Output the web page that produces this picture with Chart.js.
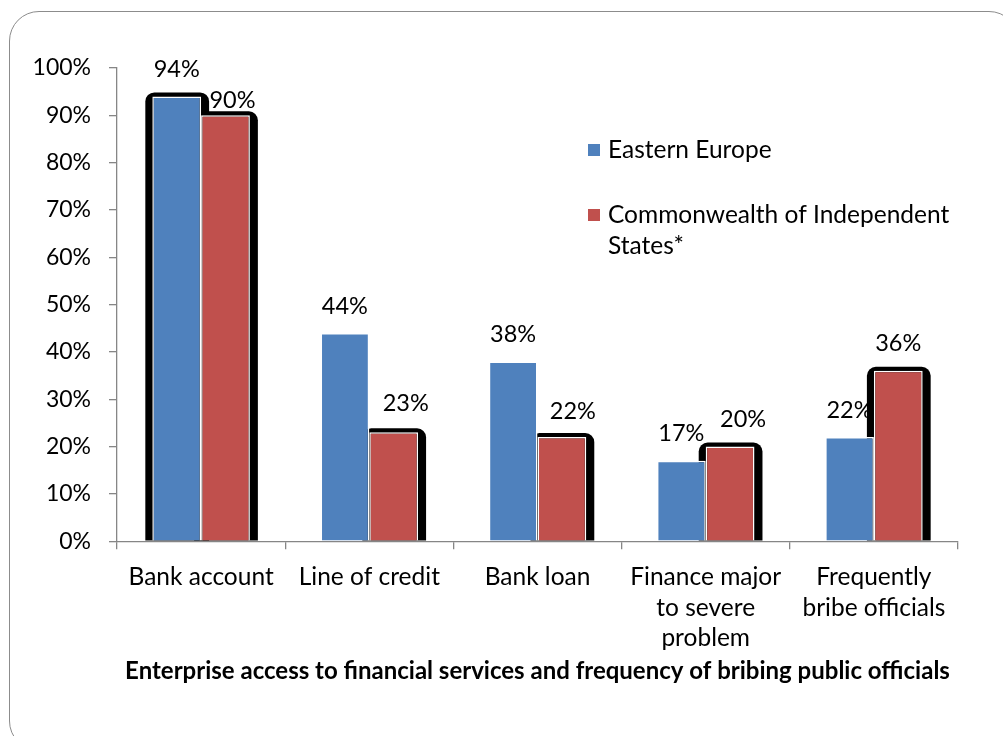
<!DOCTYPE html>
<html>
<head>
<meta charset="utf-8">
<script src="https://cdn.jsdelivr.net/npm/chart.js@4/dist/chart.umd.min.js"></script>
<style>
  html, body { margin: 0; padding: 0; background: #fff; overflow: hidden; }
  #wrap { position: relative; width: 1003px; height: 736px; }
  #frame {
    position: absolute; left: 9px; top: 11px; width: 1010px; height: 740px;
    border: 1.5px solid #8c8c8c; border-radius: 30px; box-sizing: border-box;
  }
  canvas { position: absolute; left: 0; top: 0; }
</style>
</head>
<body>
<div id="wrap">
  <div id="frame"></div>
  <canvas id="chart" width="1003" height="736"></canvas>
</div>
<script>
const categories = [
  "Bank account",
  "Line of credit",
  "Bank loan",
  ["Finance major", "to severe", "problem"],
  ["Frequently", "bribe officials"]
];
const easternEurope = [94, 44, 38, 17, 22];
const cisStates = [90, 23, 22, 20, 36];
const yTicks = [0, 10, 20, 30, 40, 50, 60, 70, 80, 90, 100];

const FONT = "Lato, 'Open Sans', sans-serif";

// black outer shadow behind some bars (like the Excel effect)
const barShadow = {
  id: "barShadow",
  beforeDatasetsDraw(chart) {
    const ctx = chart.ctx;
    ctx.save();
    ctx.fillStyle = "#000";
    chart.data.datasets.forEach((ds, i) => {
      chart.getDatasetMeta(i).data.forEach((bar, j) => {
        if (!(i === 1 || j === 0)) return;
        const l = bar.x - bar.width / 2 - 7;
        const r = bar.x + bar.width / 2 + 8;
        const t = bar.y - 4;
        const b = bar.base;
        ctx.beginPath();
        ctx.roundRect(l, t, r - l, b - t, [9, 9, 0, 0]);
        ctx.fill();
      });
    });
    ctx.restore();
  }
};

// % labels above bars, a few nudged like in the original
const labelNudge = { "1,0": [7, -15], "1,1": [12, -29], "1,2": [11, -26], "1,3": [13, -27] };
const valueLabels = {
  id: "valueLabels",
  afterDatasetsDraw(chart) {
    const ctx = chart.ctx;
    ctx.save();
    ctx.font = "23.5px " + FONT;
    ctx.fillStyle = "#000";
    ctx.textAlign = "center";
    ctx.textBaseline = "middle";
    chart.data.datasets.forEach((ds, i) => {
      chart.getDatasetMeta(i).data.forEach((bar, j) => {
        const n = labelNudge[i + "," + j] || [0, -27];
        ctx.fillText(ds.data[j] + "%", bar.x + n[0], bar.y + n[1]);
      });
    });
    ctx.restore();
  }
};

// legend drawn inside the plot, right side
const sideLegend = {
  id: "sideLegend",
  afterDraw(chart) {
    const ctx = chart.ctx;
    ctx.save();
    ctx.font = "24.5px " + FONT;
    ctx.textBaseline = "middle";
    const rows = [150, 215];
    chart.data.datasets.forEach((ds, i) => {
      const y = rows[i];
      ctx.fillStyle = ds.backgroundColor;
      ctx.fillRect(588, y - 6, 12, 12);
      ctx.fillStyle = "#000";
      // simple word wrap
      const words = ds.label.split(" ");
      let line = "", yy = y;
      words.forEach(w => {
        const test = line ? line + " " + w : w;
        if (ctx.measureText(test).width > 360 && line) {
          ctx.fillText(line, 608, yy);
          line = w;
          yy += 31;
        } else {
          line = test;
        }
      });
      ctx.fillText(line, 608, yy);
    });
    ctx.restore();
  }
};

new Chart(document.getElementById("chart").getContext("2d"), {
  type: "bar",
  data: {
    labels: categories,
    datasets: [
      {
        label: "Eastern Europe",
        data: easternEurope,
        backgroundColor: "#4F81BD",
        borderColor: "#ffffff",
        borderWidth: 1.5
      },
      {
        label: "Commonwealth of Independent States*",
        data: cisStates,
        backgroundColor: "#C0504D",
        borderColor: "#ffffff",
        borderWidth: 1.5
      }
    ]
  },
  options: {
    responsive: false,
    animation: false,
    devicePixelRatio: 1,
    layout: { padding: { left: 0, right: 45, top: 68, bottom: 50 } },
    datasets: { bar: { barPercentage: 1, categoryPercentage: 0.58 } },
    plugins: {
      legend: { display: false },
      tooltip: { enabled: false },
      title: {
        display: true,
        position: "bottom",
        fullSize: false,
        text: "Enterprise access to financial services and frequency of bribing public officials",
        color: "#000",
        font: { family: FONT, size: 24, weight: "bold", lineHeight: 1.2 },
        padding: 0
      }
    },
    scales: {
      x: {
        grid: { display: true, drawOnChartArea: false, offset: true, tickLength: 8, color: "#868686", lineWidth: 1.3 },
        border: { color: "#868686", width: 1.3 },
        ticks: {
          color: "#000",
          padding: 13,
          maxRotation: 0,
          font: { family: FONT, size: 24.5, lineHeight: 1.24 }
        },
        afterFit(s) { s.height = 116; }
      },
      y: {
        min: 0,
        max: 100,
        afterBuildTicks(s) { s.ticks = yTicks.map(v => ({ value: v })); },
        grid: { display: true, drawOnChartArea: false, tickLength: 8, color: "#868686", lineWidth: 1.3 },
        border: { color: "#868686", width: 1.3 },
        ticks: {
          color: "#000",
          padding: 18,
          font: { family: FONT, size: 23 },
          callback: v => v + "%"
        },
        afterFit(s) { s.width = 117; }
      }
    }
  },
  plugins: [barShadow, valueLabels, sideLegend]
});
</script>
</body>
</html>
